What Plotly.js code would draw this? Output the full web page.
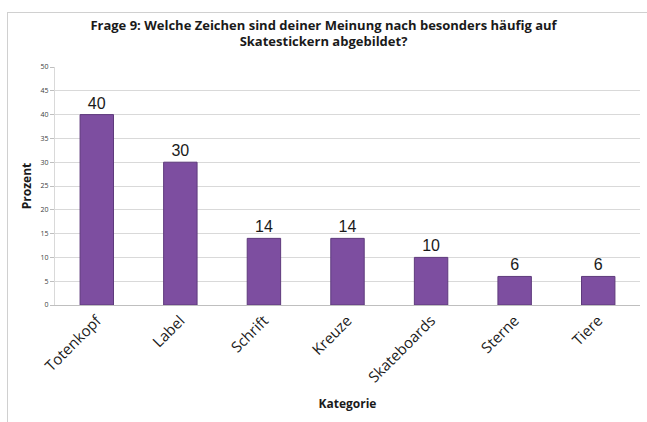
<!DOCTYPE html>
<html>
<head>
<meta charset="utf-8">
<script src="https://cdn.plot.ly/plotly-3.0.1.min.js"></script>
<style>
html,body{margin:0;padding:0;background:#fff;}
#chart{width:647px;height:422px;}
#frame{position:absolute;left:7px;top:12px;width:660px;height:420px;border-left:1px solid #d0d0d0;border-top:1px solid #d0d0d0;pointer-events:none;}
</style>
</head>
<body>
<div id="chart"></div>
<div id="frame"></div>
<script>
var categories = ["Totenkopf", "Label", "Schrift", "Kreuze", "Skateboards", "Sterne", "Tiere"];
var values = [40, 30, 14, 14, 10, 6, 6];
var yTicks = [0, 5, 10, 15, 20, 25, 30, 35, 40, 45, 50];

var trace = {
  type: "bar",
  x: categories,
  y: values,
  text: values.map(String),
  textposition: "outside",
  cliponaxis: false,
  textfont: {family: "Liberation Sans, Arial, sans-serif", size: 16, color: "#1a1a1a"},
  marker: {color: "#7d4ea0", line: {color: "#5e3a7c", width: 1}},
  width: 0.4,
  hoverinfo: "none"
};

var layout = {
  width: 647,
  height: 422,
  margin: {l: 55, r: 7, t: 67, b: 117},
  paper_bgcolor: "#ffffff",
  plot_bgcolor: "#ffffff",
  showlegend: false,
  title: {
    text: "<b>Frage 9: Welche Zeichen sind deiner Meinung nach besonders häufig auf<br>Skatestickern abgebildet?</b>",
    font: {family: "Open Sans, Liberation Sans, sans-serif", size: 13, color: "#1a1a1a"},
    x: 0.5, xanchor: "center", y: 0.93, yanchor: "top"
  },
  xaxis: {
    type: "category",
    tickangle: -45,
    tickfont: {family: "Open Sans, Liberation Sans, sans-serif", size: 15, color: "#1a1a1a"},
    showgrid: false,
    showline: true,
    linecolor: "#bfbfbf",
    ticks: "",
    title: {text: "<b>Kategorie</b>", font: {family: "Open Sans, Liberation Sans, sans-serif", size: 12, color: "#1a1a1a"}, standoff: 14}
  },
  yaxis: {
    range: [0, 50],
    tickvals: yTicks,
    ticktext: yTicks.map(String),
    tickfont: {family: "Open Sans, Liberation Sans, sans-serif", size: 7, color: "#404040"},
    showgrid: true,
    gridcolor: "#d9d9d9",
    gridwidth: 1,
    zeroline: false,
    showline: true,
    linecolor: "#d9d9d9",
    ticks: "outside",
    ticklen: 4,
    tickcolor: "#bfbfbf",
    title: {text: "<b>Prozent</b>", font: {family: "Open Sans, Liberation Sans, sans-serif", size: 12, color: "#1a1a1a"}, standoff: 6}
  }
};

Plotly.newPlot("chart", [trace], layout, {displayModeBar: false, staticPlot: true});
</script>
</body>
</html>
